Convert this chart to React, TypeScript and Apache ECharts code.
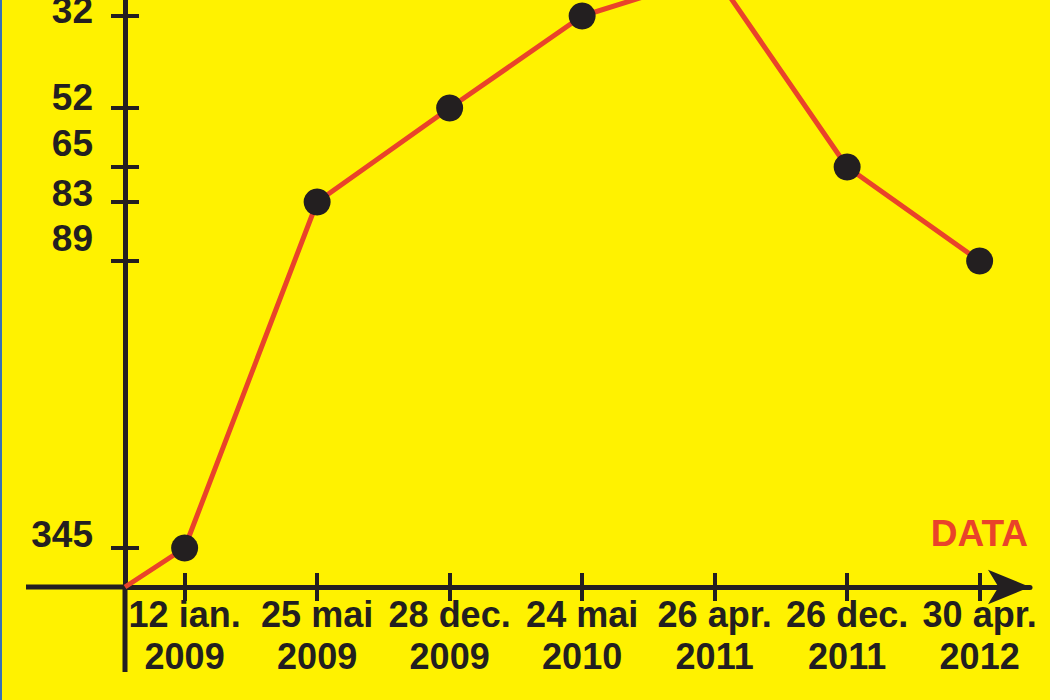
import React, { useEffect, useRef } from 'react';
import * as echarts from 'echarts';

// ---- data ----
const DATES: string[] = [
  '12 ian.\n2009',
  '25 mai\n2009',
  '28 dec.\n2009',
  '24 mai\n2010',
  '26 apr.\n2011',
  '26 dec.\n2011',
  '30 apr.\n2012',
];
const RANKS: number[] = [345, 83, 52, 32, 23, 65, 89];
const RANK_TICKS: number[] = [345, 89, 83, 65, 52, 32];
// height on the (hand-drawn, non-proportional) rank axis at which each tick sits
const TICK_LEVELS: number[] = [39, 326, 385, 420, 479, 571];
const X_AXIS_NAME = 'DATA';

// ---- styles ----
const BG = '#FFF200';
const INK = '#231F20';
const RED = '#E9432A';
const FONT = '"Liberation Sans", Arial, Helvetica, sans-serif';
// how far each rank label sits above its tick (px), as hand-placed in the original
const LABEL_LIFT: number[] = [14, 23, 9, 24, 11, 6];

const X_MIN = -0.45;
const X_MAX = 6.38;
const Y_MIN = 0;
const Y_MAX = 587;

function rankToLevel(r: number): number {
  const n = RANK_TICKS.length;
  let i = 0;
  for (i = 0; i < n - 2; i++) {
    const a = RANK_TICKS[i];
    const b = RANK_TICKS[i + 1];
    if (r <= a && r >= b) break;
    if (i === 0 && r > a) break;
  }
  const r0 = RANK_TICKS[i];
  const r1 = RANK_TICKS[i + 1];
  const l0 = TICK_LEVELS[i];
  const l1 = TICK_LEVELS[i + 1];
  return l0 + ((r - r0) / (r1 - r0)) * (l1 - l0);
}

const X_TICKS = DATES.map((_, i) => i);

const yRich: Record<string, any> = {};
LABEL_LIFT.forEach((lift, i) => {
  yRich['t' + i] = {
    color: INK,
    fontFamily: FONT,
    fontWeight: 'bold',
    fontSize: 37,
    lineHeight: lift * 2,
  };
});

export default function App() {
  const ref = useRef<HTMLDivElement>(null);

  useEffect(() => {
    if (!ref.current) return;
    const chart = echarts.init(ref.current, null, { renderer: 'svg' });

    const seriesData: any[] = [
      { value: [X_MIN, Y_MIN], symbol: 'none' },
      ...RANKS.map((r, i) => ({ value: [i, rankToLevel(r)], rank: r, date: DATES[i] })),
    ];

    const xCommon = {
      type: 'value',
      min: X_MIN,
      max: X_MAX,
      position: 'bottom',
      splitLine: { show: false },
    };
    const yCommon = {
      type: 'value',
      min: Y_MIN,
      max: Y_MAX,
      position: 'left',
      splitLine: { show: false },
    };

    chart.setOption({
      animation: false,
      backgroundColor: BG,
      grid: {
        left: 125,
        right: 20,
        top: 0,
        bottom: 113,
        containLabel: false,
        outerBoundsMode: 'none',
      },
      xAxis: [
        {
          ...xCommon,
          axisLine: {
            show: true,
            onZero: false,
            symbol: ['none', 'arrow'],
            symbolSize: [26, 42],
            lineStyle: { color: INK, width: 5 },
          },
          axisTick: {
            show: true,
            customValues: X_TICKS,
            length: 14,
            lineStyle: { color: INK, width: 4 },
          },
          axisLabel: {
            show: true,
            customValues: X_TICKS,
            formatter: (v: number) => DATES[Math.round(v)] ?? '',
            color: INK,
            fontFamily: FONT,
            fontWeight: 'bold',
            fontSize: 36,
            lineHeight: 42,
            margin: 6,
          },
        },
        {
          ...xCommon,
          axisLine: { show: false, onZero: false },
          axisTick: {
            show: true,
            inside: true,
            customValues: X_TICKS,
            length: 14,
            lineStyle: { color: INK, width: 4 },
          },
          axisLabel: { show: false },
        },
      ],
      yAxis: [
        {
          ...yCommon,
          axisLine: { show: true, onZero: false, lineStyle: { color: INK, width: 5 } },
          axisTick: {
            show: true,
            customValues: TICK_LEVELS,
            length: 14,
            lineStyle: { color: INK, width: 4 },
          },
          axisLabel: {
            show: true,
            customValues: TICK_LEVELS,
            formatter: (v: number) => {
              const idx = TICK_LEVELS.indexOf(v);
              return idx >= 0 ? '{t' + idx + '|' + RANK_TICKS[idx] + '}' : '';
            },
            rich: yRich,
            color: INK,
            fontFamily: FONT,
            fontWeight: 'bold',
            fontSize: 37,
            margin: 32,
            verticalAlign: 'bottom',
          },
        },
        {
          ...yCommon,
          axisLine: { show: false, onZero: false },
          axisTick: {
            show: true,
            inside: true,
            customValues: TICK_LEVELS,
            length: 14,
            lineStyle: { color: INK, width: 4 },
          },
          axisLabel: { show: false },
        },
      ],
      series: [
        {
          type: 'line',
          xAxisIndex: 0,
          yAxisIndex: 0,
          data: seriesData,
          clip: true,
          symbol: 'circle',
          symbolSize: 27,
          itemStyle: { color: INK },
          lineStyle: { color: RED, width: 5 },
          z: 5,
        },
      ],
      graphic: [
        {
          type: 'rect',
          shape: { x: 0, y: 0, width: 2, height: 700 },
          style: { fill: '#3572B8' },
          silent: true,
        },
        {
          type: 'line',
          shape: { x1: 26, y1: 587, x2: 125, y2: 587 },
          style: { stroke: INK, lineWidth: 5 },
          silent: true,
        },
        {
          type: 'line',
          shape: { x1: 125, y1: 585, x2: 125, y2: 672 },
          style: { stroke: INK, lineWidth: 5 },
          silent: true,
        },
        {
          type: 'text',
          x: 1028,
          y: 533,
          style: {
            text: X_AXIS_NAME,
            fill: RED,
            fontFamily: FONT,
            fontWeight: 'bold',
            fontSize: 37,
            align: 'right',
            verticalAlign: 'middle',
          },
          silent: true,
        },
      ],
    });

    return () => {
      chart.dispose();
    };
  }, []);

  return (
    <div
      ref={ref}
      style={{
        position: 'absolute',
        left: 0,
        top: 0,
        width: 1050,
        height: 700,
        background: BG,
      }}
    />
  );
}
